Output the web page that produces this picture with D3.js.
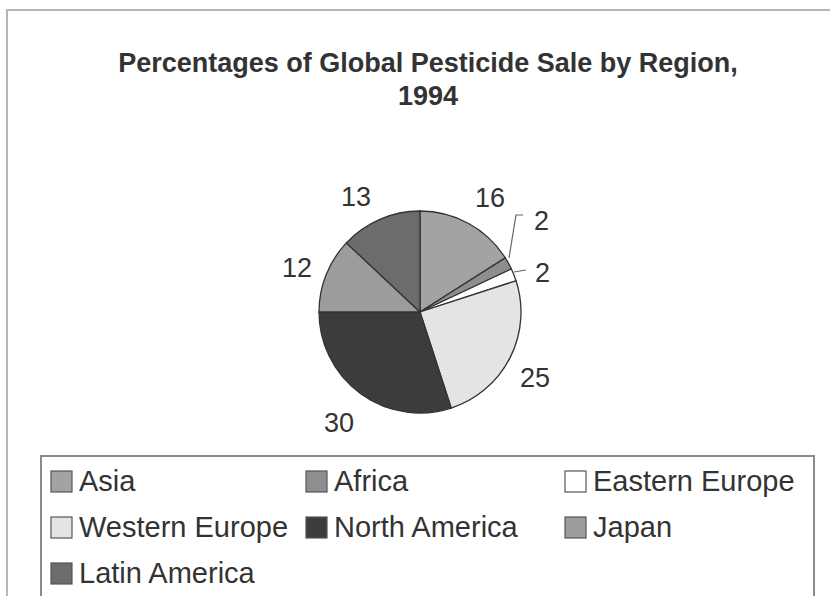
<!DOCTYPE html>
<html><head><meta charset="utf-8">
<script src="https://cdn.jsdelivr.net/npm/d3@7"></script>
<style>body{margin:0;background:#fff}svg{display:block}</style>
</head><body>
<svg id="c" width="830" height="596"></svg>
<script>
const titleLines = ["Percentages of Global Pesticide Sale by Region,", "1994"];
const regions = ["Asia", "Africa", "Eastern Europe", "Western Europe", "North America", "Japan", "Latin America"];
const values = [16, 2, 2, 25, 30, 12, 13];
const colors = ["#a3a3a3", "#8e8e8e", "#ffffff", "#e4e4e4", "#3c3c3c", "#9c9c9c", "#6c6c6c"];

const svg = d3.select("#c");
const font = "'Liberation Sans', Arial, sans-serif";

// outer frame
svg.append("rect").attr("x", 7).attr("y", 10).attr("width", 840).attr("height", 620)
  .attr("fill", "none").attr("stroke", "#b0b0b0").attr("stroke-width", 1.8);

// title
svg.append("g").selectAll("text").data(titleLines).join("text")
  .attr("x", 428).attr("y", (d, i) => 72 + i * 33)
  .attr("text-anchor", "middle").attr("font-family", font).attr("font-weight", "bold")
  .attr("font-size", 27).attr("fill", "#333").text(d => d);

// pie
const cx = 420, cy = 312, r = 101;
const pie = d3.pie().sort(null).value(d => d.v);
const arcs = pie(regions.map((n, i) => ({n, v: values[i], c: colors[i]})));
const arc = d3.arc().innerRadius(0).outerRadius(r);
const g = svg.append("g").attr("transform", `translate(${cx},${cy})`);
g.selectAll("path").data(arcs).join("path")
  .attr("d", arc).attr("fill", d => d.data.c)
  .attr("stroke", "#333").attr("stroke-width", 1.3);

// labels
const labelPos = [
  {dx: 70, dy: -114, lead: null},
  {dx: 114, dy: -91, lead: [[89, -54], [96, -97], [103, -97]]},
  {dx: 115, dy: -39, lead: [[94, -40], [106, -42]]},
  {dx: 115, dy: 66, lead: null},
  {dx: -81, dy: 111, lead: null},
  {dx: -123, dy: -44, lead: null},
  {dx: -64, dy: -115, lead: null}
];
const lg = svg.append("g").attr("transform", `translate(${cx},${cy})`);
arcs.forEach((a, i) => {
  const p = labelPos[i];
  if (p.lead) {
    lg.append("path").attr("d", d3.line()(p.lead)).attr("fill", "none")
      .attr("stroke", "#666").attr("stroke-width", 1.2);
  }
  lg.append("text").attr("x", p.dx).attr("y", p.dy).attr("dy", "0.35em")
    .attr("text-anchor", i === 1 || i === 2 ? "start" : "middle")
    .attr("font-family", font).attr("font-size", 27).attr("fill", "#333")
    .text(a.data.v);
});

// legend
svg.append("rect").attr("x", 41).attr("y", 456).attr("width", 773).attr("height", 160)
  .attr("fill", "none").attr("stroke", "#8a8a8a").attr("stroke-width", 2);
const colX = [51, 306, 565], rowY = [471, 517, 563];
const leg = svg.append("g").selectAll("g").data(regions).join("g")
  .attr("transform", (d, i) => `translate(${colX[i % 3]},${rowY[Math.floor(i / 3)]})`);
leg.append("rect").attr("width", 21).attr("height", 21)
  .attr("fill", (d, i) => colors[i]).attr("stroke", "#555").attr("stroke-width", 1.2);
leg.append("text").attr("x", 28).attr("y", 20).attr("font-family", font)
  .attr("font-size", 29).attr("fill", "#333").text(d => d);
</script>
</body></html>
